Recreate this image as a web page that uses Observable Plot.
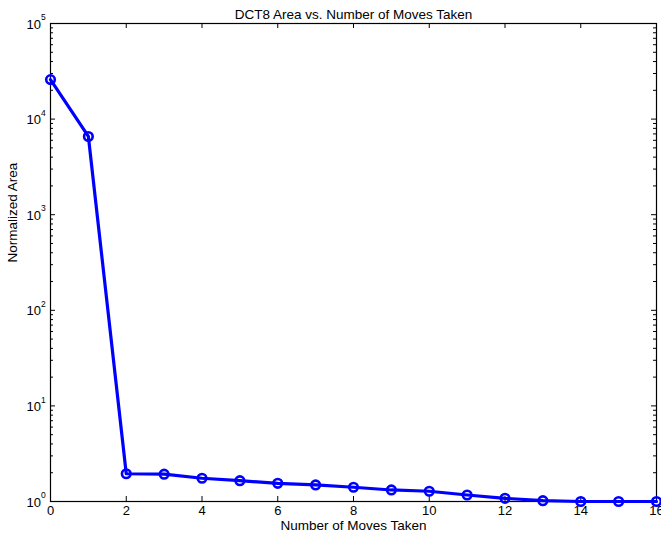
<!DOCTYPE html>
<html>
<head>
<meta charset="utf-8">
<script src="https://cdn.jsdelivr.net/npm/d3@7"></script>
<script src="https://cdn.jsdelivr.net/npm/@observablehq/plot@0.6"></script>
<style>
  html, body { margin: 0; padding: 0; background: #fff; }
  svg { font-family: "Liberation Sans", Arial, Helvetica, sans-serif; }
</style>
</head>
<body>
<div id="chart"></div>
<script>
const moves = [0, 1, 2, 3, 4, 5, 6, 7, 8, 9, 10, 11, 12, 13, 14, 15, 16];
const area  = [25900, 6580, 1.95, 1.93, 1.75, 1.65, 1.55, 1.49, 1.41, 1.32, 1.28, 1.17, 1.08, 1.02, 1.0, 1.0, 1.0];
const xTicks = [0, 2, 4, 6, 8, 10, 12, 14, 16];
const yExponents = [0, 1, 2, 3, 4, 5];
const yTicks = yExponents.map(e => Math.pow(10, e));
const minorMultipliers = [2, 3, 4, 5, 6, 7, 8, 9];
const yMinor = yExponents.slice(0, -1).flatMap(e => minorMultipliers.map(m => m * Math.pow(10, e)));

const W = 661, H = 541, mt = 23, mb = 40, ml = 50, mr = 5;
const ph = H - mt - mb, pw = W - ml - mr;
const data = moves.map((m, i) => ({m, a: area[i]}));
const blue = "#0000ff";

const chart = Plot.plot({
  width: W, height: H,
  marginTop: mt, marginBottom: mb, marginLeft: ml, marginRight: mr,
  style: {fontSize: "13px", fontFamily: "'Liberation Sans', Arial, sans-serif", color: "#000", background: "#fff"},
  x: {domain: [0, 16], axis: null},
  y: {type: "log", domain: [1, 1e5], axis: null},
  marks: [
    // x ticks bottom & top (inward)
    Plot.tickX(xTicks, {x: d => d, insetTop: ph - 5, stroke: "#000"}),
    Plot.tickX(xTicks, {x: d => d, insetBottom: ph - 5, stroke: "#000"}),
    // y major ticks left & right
    Plot.tickY(yTicks, {y: d => d, insetRight: pw - 5, stroke: "#000"}),
    Plot.tickY(yTicks, {y: d => d, insetLeft: pw - 5, stroke: "#000"}),
    // y minor ticks
    Plot.tickY(yMinor, {y: d => d, insetRight: pw - 3, stroke: "#000"}),
    Plot.tickY(yMinor, {y: d => d, insetLeft: pw - 3, stroke: "#000"}),
    Plot.frame({stroke: "#000", strokeWidth: 1.2}),
    // data
    Plot.line(data, {x: "m", y: "a", stroke: blue, strokeWidth: 3.2}),
    Plot.dot(data, {x: "m", y: "a", r: 4.3, stroke: blue, strokeWidth: 2.6, fill: "none"}),
    // x tick labels
    Plot.text(xTicks, {x: d => d, frameAnchor: "bottom", dy: 13, text: d => String(d), fontSize: 13}),
    // y tick labels (10 with superscript exponent)
    Plot.text(yExponents, {y: e => Math.pow(10, e), frameAnchor: "left", text: () => "10", textAnchor: "end", dx: -9.5, dy: 1, fontSize: 13}),
    Plot.text(yExponents, {y: e => Math.pow(10, e), frameAnchor: "left", text: e => String(e), textAnchor: "start", dx: -9.5, dy: -6, fontSize: 8.5}),
    // axis labels & title
    Plot.text(["Number of Moves Taken"], {frameAnchor: "bottom", dy: 28, fontSize: 13.5}),
    Plot.text(["Normalized Area"], {frameAnchor: "left", dx: -38, rotate: -90, fontSize: 13.5}),
    Plot.text(["DCT8 Area vs. Number of Moves Taken"], {frameAnchor: "top", dy: -14.5, fontSize: 13.5})
  ]
});
document.getElementById("chart").appendChild(chart);
</script>
</body>
</html>
